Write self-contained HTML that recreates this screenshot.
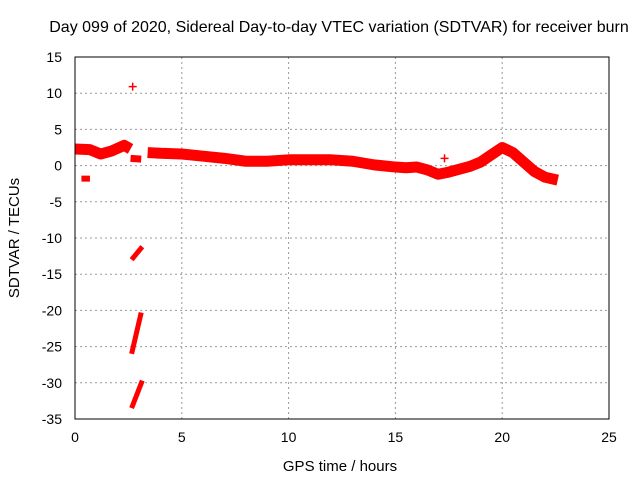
<!DOCTYPE html>
<html><head><meta charset="utf-8"><style>
body{margin:0;background:#fff}
svg{display:block;font-family:"Liberation Sans",sans-serif}
</style></head><body>
<svg id="c" width="640" height="480">
<rect width="640" height="480" fill="#fff"/>
<text x="339" y="32" font-size="16" text-anchor="middle">Day 099 of 2020, Sidereal Day-to-day VTEC variation (SDTVAR) for receiver burn</text>
<text x="340" y="471" font-size="15" text-anchor="middle">GPS time / hours</text>
<text transform="translate(19,238) rotate(-90)" font-size="15" text-anchor="middle">SDTVAR / TECUs</text>
<g id="grid"></g><g id="marks"></g>
<rect x="75" y="57" width="534" height="362" fill="none" stroke="#000"/>
</svg>
<script>
const xTicks=[0,5,10,15,20,25];
const yTicks=[15,10,5,0,-5,-10,-15,-20,-25,-30,-35];
const mainTimes=[3.4,4,5,6,7,8,9,10,11,12,13,14,15,15.5,16,16.5,17,17.5,18,18.5,19,19.5,20,20.5,21,21.5,22,22.6];
const mainValues=[1.8,1.7,1.6,1.3,1.0,0.6,0.6,0.8,0.8,0.8,0.6,0.1,-0.2,-0.3,-0.2,-0.6,-1.2,-0.9,-0.5,-0.1,0.5,1.5,2.5,1.8,0.5,-0.8,-1.6,-2.0];
const earlyTimes=[0,0.7,1.2,1.7,2.0,2.3,2.6];
const earlyValues=[2.3,2.2,1.6,2.0,2.4,2.8,2.3];
const dipTimes=[2.6,3.1];const dipValues=[1.0,0.9];
const lowTimes=[0.3,0.7];const lowValues=[-1.8,-1.8];
const rise1Times=[2.65,3.15];const rise1Values=[-13,-11.2];
const rise2Times=[2.65,3.1];const rise2Values=[-26,-20.3];
const rise3Times=[2.65,3.15];const rise3Values=[-33.5,-29.7];
const outlierTimes=[2.7,17.3];const outlierValues=[10.9,1.0];
const X=t=>75+t*534/25, Y=v=>57+(15-v)*362/50;
const NS='http://www.w3.org/2000/svg';
const g=document.getElementById('grid'),m=document.getElementById('marks'),svg=document.getElementById('c');
function el(tag,a,p){const e=document.createElementNS(NS,tag);for(const k in a)e.setAttribute(k,a[k]);p.appendChild(e);return e;}
xTicks.forEach(t=>{const x=X(t);
 if(t>0&&t<25){const l=el('line',{x1:x,x2:x,y1:57,y2:419,stroke:'#999','stroke-dasharray':'2,3'},g);
 
 }
 const tx=el('text',{x:x,y:442,'font-size':14,'text-anchor':'middle'},svg);tx.textContent=t;
 
 });
yTicks.forEach(v=>{const y=Y(v);
 if(v<15&&v>-35){const l=el('line',{x1:75,x2:609,y1:y,y2:y,stroke:'#999','stroke-dasharray':'2,3'},g);
 
 }
 const tx=el('text',{x:62,y:y+5,'font-size':14,'text-anchor':'end'},svg);tx.textContent=v;
 
 });
function band(ts,vs,w,name){const pts=ts.map((t,i)=>X(t)+','+Y(vs[i])).join(' ');
 const p=el('polyline',{points:pts,fill:'none',stroke:'#f00','stroke-width':w,'stroke-linejoin':'round','stroke-linecap':'butt'},m);
 
 }
band(mainTimes,mainValues,11,'main-series');
band(earlyTimes,earlyValues,11,'early-series');
band(dipTimes,dipValues,7,'dip-series');
band(lowTimes,lowValues,6,'low-series');
band(rise1Times,rise1Values,5,'rise-series-1');
band(rise2Times,rise2Values,5,'rise-series-2');
band(rise3Times,rise3Values,5,'rise-series-3');
outlierTimes.forEach((t,i)=>{const x=X(t),y=Y(outlierValues[i]);
 const p=el('path',{d:`M${x-4},${y}H${x+4}M${x},${y-4}V${y+4}`,stroke:'#f00','stroke-width':1.5},m);
 
 });
</script>
</body></html>
